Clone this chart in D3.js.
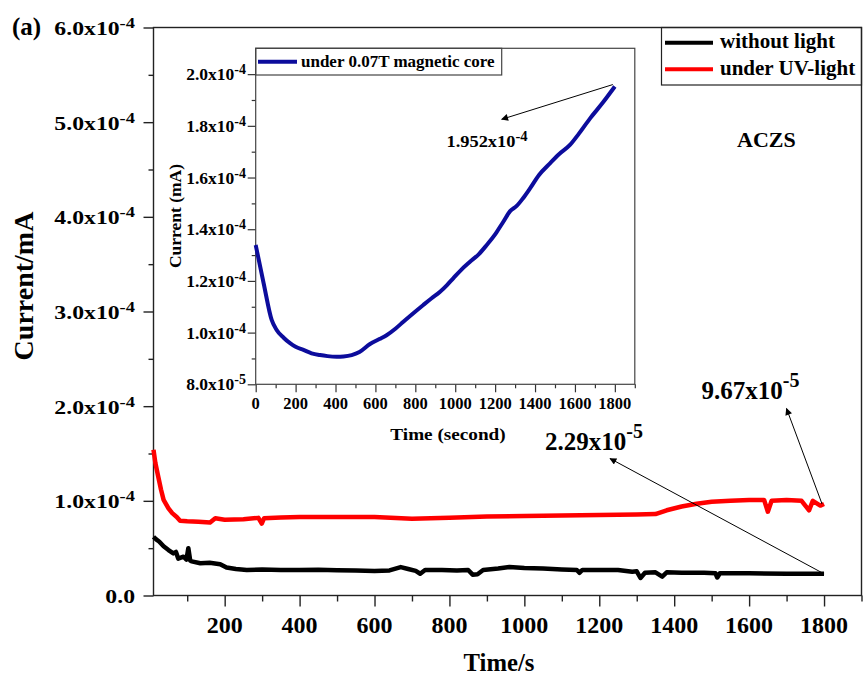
<!DOCTYPE html>
<html>
<head>
<meta charset="utf-8">
<script src="https://cdn.jsdelivr.net/npm/d3@7"></script>
<style>
  body { margin: 0; background: #fff; }
  svg text { font-family: "Liberation Serif", "Times New Roman", serif; font-weight: bold; fill: #000; }
</style>
</head>
<body>
<div id="chart"></div>
<script>
// Main chart, without light (time in s, current in mA).
var darkTime = [10, 18, 25, 37, 50, 63, 70, 76, 90, 98, 103, 108, 112, 135, 160, 188, 205, 230, 259, 300,
  350, 400, 450, 500, 550, 600, 640, 670, 690, 710, 722, 735, 780, 820, 850, 862, 875, 890, 930, 960,
  1000, 1050, 1100, 1140, 1147, 1155, 1200, 1250, 1288, 1300, 1310, 1322, 1350, 1368, 1380, 1420, 1480,
  1510, 1515, 1522, 1600, 1700, 1800];
var darkCurrent = [6.2e-5, 5.9e-5, 5.7e-5, 5.2e-5, 4.8e-5, 4.45e-5, 4.6e-5, 3.9e-5, 4.1e-5, 3.8e-5, 5.0e-5,
  3.7e-5, 3.6e-5, 3.4e-5, 3.45e-5, 3.3e-5, 2.95e-5, 2.8e-5, 2.7e-5, 2.75e-5, 2.7e-5, 2.7e-5, 2.72e-5,
  2.68e-5, 2.65e-5, 2.6e-5, 2.65e-5, 3.0e-5, 2.8e-5, 2.6e-5, 2.3e-5, 2.7e-5, 2.7e-5, 2.65e-5, 2.7e-5,
  2.2e-5, 2.25e-5, 2.7e-5, 2.85e-5, 3.0e-5, 2.9e-5, 2.85e-5, 2.75e-5, 2.7e-5, 2.4e-5, 2.7e-5, 2.7e-5,
  2.7e-5, 2.5e-5, 2.55e-5, 1.85e-5, 2.4e-5, 2.45e-5, 2.0e-5, 2.45e-5, 2.4e-5, 2.4e-5, 2.35e-5, 1.9e-5,
  2.35e-5, 2.35e-5, 2.3e-5, 2.29e-5];

// Main chart, under UV-light.
var uvTime = [10, 15, 23, 30, 37, 50, 60, 72, 81, 100, 130, 161, 175, 200, 250, 290, 299, 305, 350, 400,
  500, 600, 700, 800, 900, 1000, 1100, 1200, 1300, 1350, 1380, 1420, 1460, 1500, 1550, 1600, 1640, 1650,
  1660, 1700, 1740, 1760, 1770, 1790, 1800];
var uvCurrent = [1.54e-4, 1.40e-4, 1.25e-4, 1.12e-4, 1.01e-4, 9.2e-5, 8.7e-5, 8.3e-5, 7.9e-5, 7.85e-5,
  7.8e-5, 7.7e-5, 8.15e-5, 8.0e-5, 8.05e-5, 8.2e-5, 7.6e-5, 8.15e-5, 8.25e-5, 8.3e-5, 8.3e-5, 8.3e-5,
  8.1e-5, 8.2e-5, 8.35e-5, 8.4e-5, 8.45e-5, 8.5e-5, 8.55e-5, 8.6e-5, 9.0e-5, 9.4e-5, 9.7e-5, 9.9e-5,
  1.0e-4, 1.01e-4, 1.01e-4, 8.85e-5, 1.0e-4, 1.01e-4, 1.0e-4, 9.0e-5, 1.0e-4, 9.5e-5, 9.67e-5];

// Inset, under 0.07T magnetic core.
var magTime = [0, 40, 80, 105, 140, 172, 200, 239, 280, 322, 360, 406, 440, 481, 520, 573, 620, 656, 700,
  740, 790, 840, 880, 924, 960, 990, 1030, 1074, 1120, 1158, 1200, 1241, 1275, 1308, 1340, 1375, 1420,
  1475, 1520, 1575, 1620, 1676, 1740, 1800];
var magCurrent = [1.339e-4, 1.19e-4, 1.049e-4, 1.01e-4, 9.8e-5, 9.59e-5, 9.45e-5, 9.33e-5, 9.2e-5, 9.13e-5,
  9.09e-5, 9.07e-5, 9.08e-5, 9.13e-5, 9.25e-5, 9.56e-5, 9.75e-5, 9.9e-5, 1.015e-4, 1.042e-4, 1.075e-4,
  1.107e-4, 1.132e-4, 1.158e-4, 1.185e-4, 1.21e-4, 1.243e-4, 1.274e-4, 1.305e-4, 1.339e-4, 1.38e-4,
  1.429e-4, 1.47e-4, 1.49e-4, 1.52e-4, 1.558e-4, 1.61e-4, 1.655e-4, 1.69e-4, 1.726e-4, 1.77e-4,
  1.829e-4, 1.89e-4, 1.952e-4];

// Ticks and labels.
var mainXTicks = [200, 400, 600, 800, 1000, 1200, 1400, 1600, 1800];
var mainXMinor = [100, 300, 500, 700, 900, 1100, 1300, 1500, 1700, 1900];
var mainYTicks = [0, 1e-4, 2e-4, 3e-4, 4e-4, 5e-4, 6e-4];
var mainYMinor = [0.5e-4, 1.5e-4, 2.5e-4, 3.5e-4, 4.5e-4, 5.5e-4];
var mainYLabels = ['0.0', '1.0x10^-4', '2.0x10^-4', '3.0x10^-4', '4.0x10^-4', '5.0x10^-4', '6.0x10^-4'];
var insetXTicks = [0, 200, 400, 600, 800, 1000, 1200, 1400, 1600, 1800];
var insetXMinor = [100, 300, 500, 700, 900, 1100, 1300, 1500, 1700, 1900];
var insetYTicks = [8e-5, 1.0e-4, 1.2e-4, 1.4e-4, 1.6e-4, 1.8e-4, 2.0e-4];
var insetYMinor = [9e-5, 1.1e-4, 1.3e-4, 1.5e-4, 1.7e-4, 1.9e-4];
var insetYLabels = ['8.0x10^-5', '1.0x10^-4', '1.2x10^-4', '1.4x10^-4', '1.6x10^-4', '1.8x10^-4', '2.0x10^-4'];

var W = 865, H = 679;

var svg = d3.select('#chart')
  .append('svg')
  .attr('width', W)
  .attr('height', H);

var defs = svg.append('defs');
defs.append('marker')
  .attr('id', 'head')
  .attr('viewBox', '0 0 10 10')
  .attr('refX', 9)
  .attr('refY', 5)
  .attr('markerWidth', 11)
  .attr('markerHeight', 7)
  .attr('markerUnits', 'userSpaceOnUse')
  .attr('orient', 'auto')
  .append('path')
  .attr('d', 'M0,0 L10,5 L0,10 Z')
  .attr('fill', '#000');

// Text with an optional superscript ("1.0x10^-4"), stretched by sx.
function label(g, str, px, py, size, sx, anchor, supDy) {
  var parts = str.split('^');
  var t = g.append('text')
    .attr('transform', 'translate(' + px + ',' + py + ') scale(' + sx + ',1)')
    .attr('text-anchor', anchor)
    .style('font-size', size + 'px');
  t.append('tspan').text(parts[0]);
  if (parts[1]) {
    t.append('tspan')
      .attr('dy', -supDy)
      .style('font-size', Math.round(size * 0.78) + 'px')
      .text(parts[1]);
  }
  return t;
}

// ---------- main chart ----------
var x = d3.scaleLinear().domain([10, 1900]).range([153.5, 861.5]);
var y = d3.scaleLinear().domain([0, 6e-4]).range([595.5, 27.5]);

var main = svg.append('g');

main.append('g')
  .attr('transform', 'translate(0,595.5)')
  .call(d3.axisBottom(x).tickValues(mainXTicks).tickSize(11).tickFormat(''))
  .call(function (g) { g.select('.domain').remove(); });
main.append('g')
  .attr('transform', 'translate(0,595.5)')
  .call(d3.axisBottom(x).tickValues(mainXMinor).tickSize(6).tickFormat(''))
  .call(function (g) { g.select('.domain').remove(); });
main.append('g')
  .attr('transform', 'translate(153.5,0)')
  .call(d3.axisLeft(y).tickValues(mainYTicks).tickSize(10).tickFormat(''))
  .call(function (g) { g.select('.domain').remove(); });
main.append('g')
  .attr('transform', 'translate(153.5,0)')
  .call(d3.axisLeft(y).tickValues(mainYMinor).tickSize(5).tickFormat(''))
  .call(function (g) { g.select('.domain').remove(); });
main.selectAll('.tick line').attr('stroke', '#222').attr('stroke-width', 1.4);

main.append('rect')
  .attr('x', x(10))
  .attr('y', y(6e-4))
  .attr('width', x(1900) - x(10))
  .attr('height', y(0) - y(6e-4))
  .attr('fill', 'none')
  .attr('stroke', '#222')
  .attr('stroke-width', 1.4);

mainXTicks.forEach(function (d) {
  label(main, String(d), x(d), 633, 24, 1, 'middle', 0);
});
mainYTicks.forEach(function (d, i) {
  label(main, mainYLabels[i], 135, y(d) + 7.5, 18, 1.32, 'end', 7);
});

main.append('text')
  .attr('transform', 'translate(33,286) rotate(-90)')
  .attr('text-anchor', 'middle')
  .style('font-size', '28px')
  .text('Current/mA');
main.append('text')
  .attr('transform', 'translate(499,671) scale(0.95,1)')
  .attr('text-anchor', 'middle')
  .style('font-size', '26px')
  .text('Time/s');
main.append('text')
  .attr('x', 12)
  .attr('y', 35)
  .style('font-size', '25px')
  .text('(a)');
main.append('text')
  .attr('x', 737)
  .attr('y', 146.5)
  .style('font-size', '22px')
  .text('ACZS');

// Series.
var mainLine = d3.line()
  .x(function (d) { return x(d[0]); })
  .y(function (d) { return y(d[1]); });

main.append('path')
  .datum(d3.zip(uvTime, uvCurrent))
  .attr('d', mainLine)
  .attr('fill', 'none')
  .attr('stroke', '#ff0000')
  .attr('stroke-width', 4.5)
  .attr('stroke-linejoin', 'round');
main.append('path')
  .datum(d3.zip(darkTime, darkCurrent))
  .attr('d', mainLine)
  .attr('fill', 'none')
  .attr('stroke', '#000')
  .attr('stroke-width', 4.5)
  .attr('stroke-linejoin', 'round');

// Legend.
var leg = main.append('g');
leg.append('rect')
  .attr('x', 661.5)
  .attr('y', 27.5)
  .attr('width', 200)
  .attr('height', 57.5)
  .attr('fill', 'none')
  .attr('stroke', '#222')
  .attr('stroke-width', 1.2);
[['without light', '#000', 42.7, 48.3], ['under UV-light', '#ff0000', 69.3, 75]].forEach(function (d) {
  leg.append('line')
    .attr('x1', 665).attr('x2', 713)
    .attr('y1', d[2]).attr('y2', d[2])
    .attr('stroke', d[1])
    .attr('stroke-width', 4);
  leg.append('text')
    .attr('x', 720)
    .attr('y', d[3])
    .style('font-size', '21px')
    .text(d[0]);
});

// End-value callouts.
label(main, '2.29x10^-5', 545, 450, 25, 1, 'start', 12);
label(main, '9.67x10^-5', 701.5, 399, 25, 1, 'start', 12);
main.append('line')
  .attr('x1', x(1800)).attr('y1', y(2.29e-5))
  .attr('x2', 610).attr('y2', 458.5)
  .attr('stroke', '#000')
  .attr('stroke-width', 1)
  .attr('marker-end', 'url(#head)');
main.append('line')
  .attr('x1', x(1800) - 2).attr('y1', y(9.67e-5))
  .attr('x2', 786.5).attr('y2', 408.5)
  .attr('stroke', '#000')
  .attr('stroke-width', 1)
  .attr('marker-end', 'url(#head)');

// ---------- inset ----------
var ix = d3.scaleLinear().domain([0, 1900]).range([255.7, 634.8]);
var iy = d3.scaleLinear().domain([8e-5, 2.1e-4]).range([384.3, 48.3]);

var inset = svg.append('g');

inset.append('g')
  .attr('transform', 'translate(0,384.3)')
  .call(d3.axisBottom(ix).tickValues(insetXTicks).tickSize(8).tickFormat(''))
  .call(function (g) { g.select('.domain').remove(); });
inset.append('g')
  .attr('transform', 'translate(0,384.3)')
  .call(d3.axisBottom(ix).tickValues(insetXMinor).tickSize(4).tickFormat(''))
  .call(function (g) { g.select('.domain').remove(); });
inset.append('g')
  .attr('transform', 'translate(255.7,0)')
  .call(d3.axisLeft(iy).tickValues(insetYTicks).tickSize(8).tickFormat(''))
  .call(function (g) { g.select('.domain').remove(); });
inset.append('g')
  .attr('transform', 'translate(255.7,0)')
  .call(d3.axisLeft(iy).tickValues(insetYMinor).tickSize(4).tickFormat(''))
  .call(function (g) { g.select('.domain').remove(); });
inset.selectAll('.tick line').attr('stroke', '#333').attr('stroke-width', 1.2);

inset.append('rect')
  .attr('x', ix(0))
  .attr('y', iy(2.1e-4))
  .attr('width', ix(1900) - ix(0))
  .attr('height', iy(8e-5) - iy(2.1e-4))
  .attr('fill', 'none')
  .attr('stroke', '#444')
  .attr('stroke-width', 1.2);

insetXTicks.forEach(function (d) {
  label(inset, String(d), ix(d), 408.5, 16.5, 1, 'middle', 0);
});
insetYTicks.forEach(function (d, i) {
  label(inset, insetYLabels[i], 246, iy(d) + 6, 17.5, 1, 'end', 6);
});

inset.append('text')
  .attr('transform', 'translate(181,216) rotate(-90)')
  .attr('text-anchor', 'middle')
  .style('font-size', '17.5px')
  .text('Current (mA)');
inset.append('text')
  .attr('transform', 'translate(448,440) scale(1.2,1)')
  .attr('text-anchor', 'middle')
  .style('font-size', '16px')
  .text('Time (second)');

inset.append('path')
  .datum(d3.zip(magTime, magCurrent))
  .attr('d', d3.line()
    .curve(d3.curveMonotoneX)
    .x(function (d) { return ix(d[0]); })
    .y(function (d) { return iy(d[1]); }))
  .attr('fill', 'none')
  .attr('stroke', '#0c0c9c')
  .attr('stroke-width', 4)
  .attr('stroke-linejoin', 'round');

// Inset legend.
inset.append('rect')
  .attr('x', 255.7)
  .attr('y', 48.3)
  .attr('width', 246)
  .attr('height', 26.7)
  .attr('fill', 'none')
  .attr('stroke', '#444')
  .attr('stroke-width', 1.2);
inset.append('line')
  .attr('x1', 258).attr('x2', 297)
  .attr('y1', 61.7).attr('y2', 61.7)
  .attr('stroke', '#0c0c9c')
  .attr('stroke-width', 4);
inset.append('text')
  .attr('x', 301)
  .attr('y', 67)
  .style('font-size', '17px')
  .text('under 0.07T magnetic core');

// Inset end-value callout.
label(inset, '1.952x10^-4', 446.5, 146.5, 17.5, 1.05, 'start', 6);
inset.append('line')
  .attr('x1', ix(1800) - 2).attr('y1', iy(1.952e-4) - 2)
  .attr('x2', 501.7).attr('y2', 119.3)
  .attr('stroke', '#000')
  .attr('stroke-width', 1)
  .attr('marker-end', 'url(#head)');
</script>
</body>
</html>
